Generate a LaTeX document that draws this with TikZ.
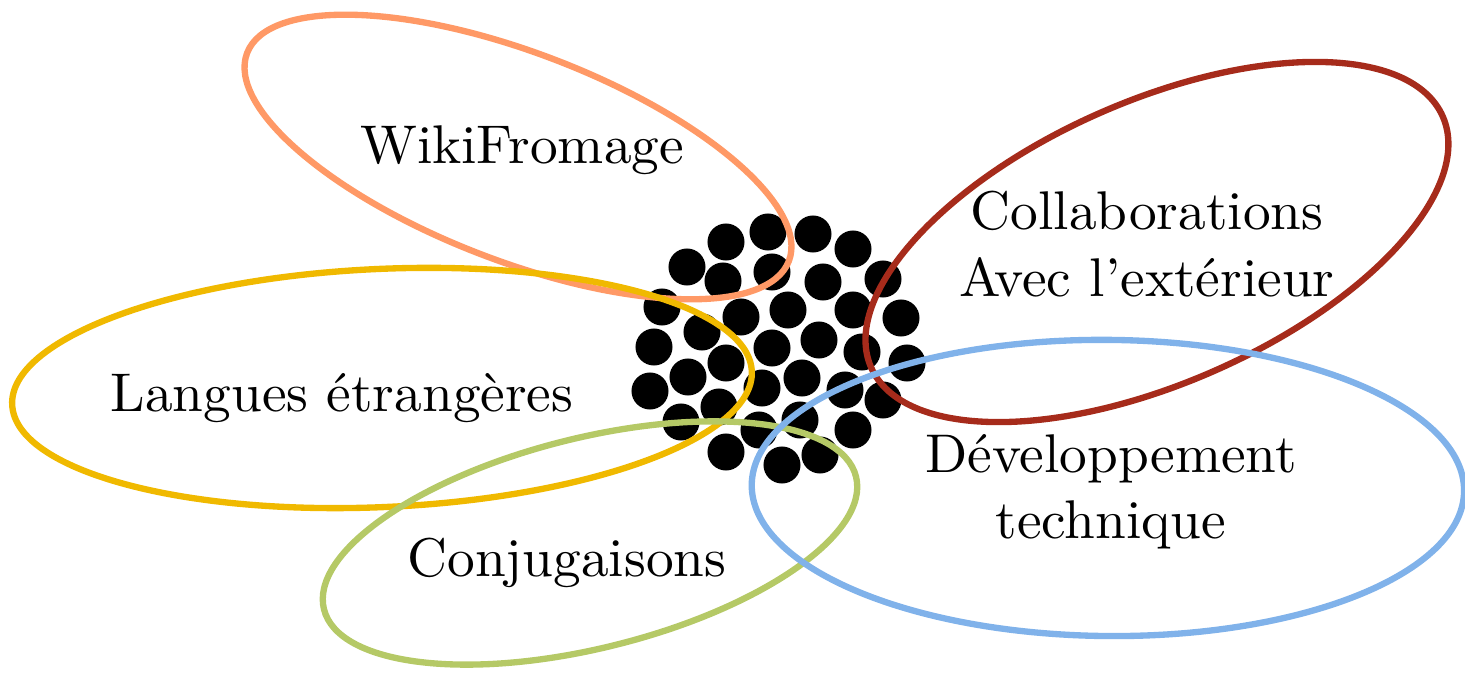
\documentclass[tikz,border=0pt]{standalone}
\usepackage{fontspec}
\newfontfamily\topicfont{lmroman10-regular.otf}[Ligatures=TeX,FakeStretch=1.015]
\usepackage{tikz}
\usetikzlibrary{calc}
\definecolor{wikicol}{RGB}{255,153,102}
\definecolor{collabcol}{RGB}{166,43,27}
\definecolor{languecol}{RGB}{240,185,0}
\definecolor{conjcol}{RGB}{181,201,102}
\definecolor{devcol}{RGB}{128,178,234}

\begin{document}
\begin{tikzpicture}[x=0.01cm,y=-0.01cm,
  blob/.style={fill=black,circle,inner sep=0pt,minimum size=0.37cm},
  ring/.style={line width=1.8pt},
  topic/.style={font=\topicfont\fontsize{15.5}{18.9}\selectfont,align=center,inner sep=0pt}]
\useasboundingbox (0,0) rectangle (1465,676);

% the cluster in the middle
\foreach \x/\y [count=\i] in {726/242,768/232,813/234,853/249,687/267,723/281,772/272,
  823/282,883/279,662/307,741/317,788/310,853/310,901/318,702/332,654/347,772/348,
  819/340,862/352,726/363,907/363,688/377,650/391,762/388,802/378,845/390,883/400,
  719/407,681/422,800/420,759/430,853/430,726/452,820/455,782/465}
  \node[blob] (d\i) at (\x,\y) {};

% centres of the rings
\coordinate (wiki) at (518,157);
\coordinate (collab) at (1157,242);
\coordinate (langue) at (382,388);
\coordinate (conj) at (590,543);
\coordinate (dev) at (1108,488);

\draw[ring, wikicol, rotate around={-21:(wiki)}] (wiki) ellipse (2.9cm and 1.04cm);
\draw[ring, collabcol, rotate around={23.7:(collab)}] (collab) ellipse (3.12cm and 1.41cm);
\draw[ring, languecol, rotate around={2.6:(langue)}] (langue) ellipse (3.7cm and 1.19cm);
\draw[ring, conjcol, rotate around={14:(conj)}] (conj) ellipse (2.74cm and 1.05cm);
\draw[ring, devcol, rotate around={-0.5:(dev)}] (dev) ellipse (3.56cm and 1.48cm);

\node[topic, anchor=base] (wikitext) at (522,164) {WikiFromage};
\node[topic] (collabtext) at (1147,244) {Collaborations\\Avec l'extérieur};
\node[topic, anchor=base] (languetext) at (342,412) {Langues étrangères};
\node[topic, anchor=base] (conjtext) at (567,577) {Conjugaisons};
\node[topic] (devtext) at (1111,492) {Développement\\technique};
\end{tikzpicture}
\end{document}
